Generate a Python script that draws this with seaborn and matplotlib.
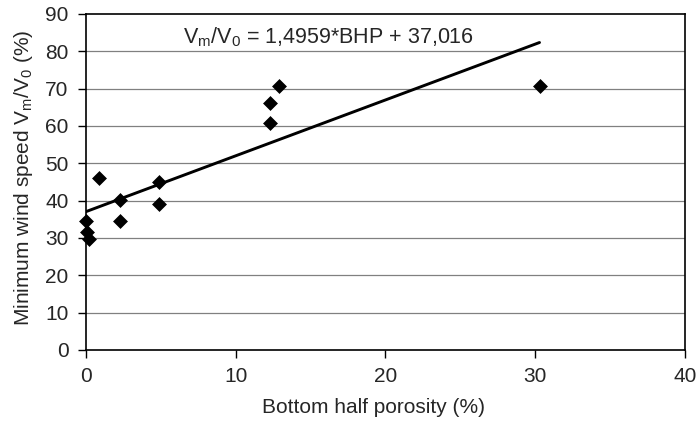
import numpy as np
import pandas as pd
import seaborn as sns
from matplotlib import pyplot as plt

bhp = [0.0, 0.1, 0.2, 0.9, 2.3, 2.3, 4.9, 4.9, 12.3, 12.3, 12.9, 30.3]
vm_v0 = [34.5, 31.6, 29.7, 46.1, 40.2, 34.5, 45.0, 39.1, 66.2, 60.8, 70.7, 70.7]

# Regression from the equation in the chart
slope = 1.4959
intercept = 37.016

x_ticks = [0, 10, 20, 30, 40]
y_ticks = [0, 10, 20, 30, 40, 50, 60, 70, 80, 90]

df = pd.DataFrame({'BHP': bhp, 'Vm/V0': vm_v0})

sns.set_style('white')
plt.rcParams['font.family'] = ['Liberation Sans', 'DejaVu Sans']
plt.rcParams['mathtext.fontset'] = 'custom'
plt.rcParams['mathtext.rm'] = 'Liberation Sans'
plt.rcParams['mathtext.it'] = 'Liberation Sans'

fig = plt.figure(figsize=(6.98, 4.22), dpi=100)
ax = fig.add_axes([0.123, 0.171, 0.858, 0.796])

# horizontal grid lines
for y in y_ticks[1:-1]:
    ax.axhline(y, color='#808080', lw=0.9, zorder=0)

fit_x = np.array([0.0, max(bhp)])
ax.plot(fit_x, slope * fit_x + intercept, color='black', lw=2.1, zorder=2)

sns.scatterplot(data=df, x='BHP', y='Vm/V0', marker='D', s=50, color='black',
                edgecolor='black', linewidth=0.5, ax=ax, zorder=3, clip_on=False)

ax.set_xlim(0, 40)
ax.set_ylim(0, 90)
ax.set_xticks(x_ticks)
ax.set_yticks(y_ticks)
ax.tick_params(axis='both', direction='out', length=6, width=1, labelsize=15,
               color='black', left=True, bottom=True, pad=6.5)
for s in ax.spines.values():
    s.set_color('black')
    s.set_linewidth(1.2)

ax.set_xlabel('Bottom half porosity (%)', fontsize=15)
ax.set_ylabel('Minimum wind speed V$_m$/V$_0$ (%)', fontsize=15)
ax.xaxis.set_label_coords(0.481, -0.143)
ax.yaxis.set_label_coords(-0.085, 0.512)

ax.text(6.5, 83.8, 'V$_m$/V$_0$ = 1,4959*BHP + 37,016', fontsize=15.5,
        ha='left', va='center')

fig.savefig('out.png', dpi=100)
